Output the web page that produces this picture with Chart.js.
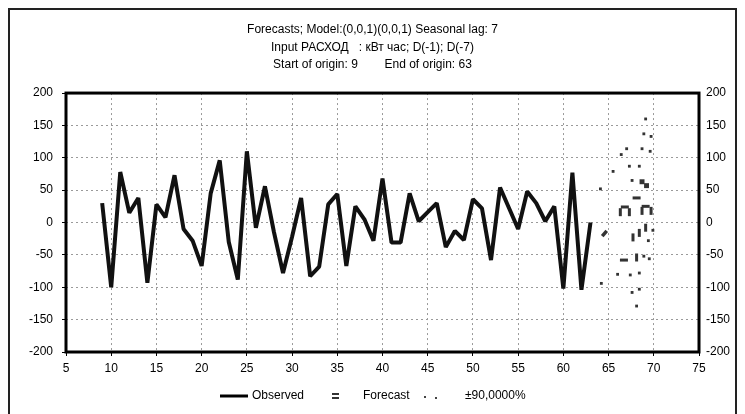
<!DOCTYPE html>
<html>
<head>
<meta charset="utf-8">
<script src="https://cdn.jsdelivr.net/npm/chart.js@4.4.0/dist/chart.umd.min.js"></script>
<style>
  html, body { margin: 0; padding: 0; background: #fff; }
</style>
</head>
<body>
<canvas id="chart" width="745" height="414"></canvas>
<script>
// observed series (origin 9 .. 63)
const obsT = [9, 10, 11, 12, 13, 14, 15, 16, 17, 18, 19, 20, 21, 22, 23, 24, 25, 26, 27, 28,
  29, 30, 31, 32, 33, 34, 35, 36, 37, 38, 39, 40, 41, 42, 43, 44, 45, 46, 47, 48,
  49, 50, 51, 52, 53, 54, 55, 56, 57, 58, 59, 60, 61, 62, 63];
const obsV = [30, -100, 78, 15, 38, -93, 28, 8, 73, -10, -28, -67, 45, 96, -30, -88, 110, -8, 56, -15,
  -78, -22, 38, -83, -68, 28, 44, -67, 25, 5, -28, 68, -31, -31, 45, 2, 16, 30, -38, -13,
  -27, 36, 22, -58, 54, 22, -10, 48, 30, 2, 25, -102, 77, -104, 0];

// forecast (short stroke right after the end of origin)
const fcT = [64.3, 64.8];
const fcV = [-21, -13];

// forecast marks, horizontal / vertical strokes and blocks
const hDashT = [66.8, 69.1, 68.1, 66.7];
const hDashV = [24, 25, 38, -58];
const vDashT = [66.3, 67.3, 68.7, 69.7, 67.7, 68.4, 69.1, 68.1];
const vDashV = [16, 16, 18, 18, -23, -16, -8, -54];
const blockT = [68.7, 69.2];
const blockV = [63, 57];

// +-90% limits (small dots)
const limT = [64.1, 64.2, 65.5, 66.4, 67.0, 67.3, 67.6, 68.4, 68.7, 69.1, 68.9, 69.7, 69.6,
  69.4, 69.9, 68.9, 69.5, 66.0, 67.4, 68.4, 67.6, 68.4, 68.1];
const limV = [52, -94, 79, 105, 114, 87, 65, 87, 114, 160, 137, 133, 110,
  -28, -12, -52, -56, -80, -81, -78, -108, -103, -129];

const titleLines = [
  'Forecasts; Model:(0,0,1)(0,0,1) Seasonal lag: 7',
  'Input РАСХОД   : кВт час; D(-1); D(-7)',
  'Start of origin: 9        End of origin: 63'
];

const xy = (ts, vs) => ts.map((t, i) => ({x: t, y: vs[i]}));
const FONT = 'Liberation Sans, Arial, sans-serif';
Chart.defaults.font.family = FONT;
Chart.defaults.color = '#000';

// frame round the plot + legend at the bottom
const framePlugin = {
  id: 'frame',
  afterDraw(chart) {
    const {ctx, chartArea: a} = chart;
    ctx.save();
    // outer window frame
    ctx.strokeStyle = '#222';
    ctx.lineWidth = 2;
    ctx.strokeRect(9, 9, 727, 420);
    // plot frame
    ctx.strokeStyle = '#000';
    ctx.lineWidth = 3;
    ctx.strokeRect(a.left, a.top, a.right - a.left, a.bottom - a.top);

    // legend
    const y = 396;
    ctx.font = '12px ' + FONT;
    ctx.fillStyle = '#000';
    ctx.textBaseline = 'middle';
    ctx.lineWidth = 3;
    ctx.beginPath();
    ctx.moveTo(220, y);
    ctx.lineTo(248, y);
    ctx.stroke();
    ctx.fillText('Observed', 252, y);

    ctx.fillStyle = '#333';
    ctx.fillRect(332, y - 3, 7, 2);
    ctx.fillRect(332, y + 1, 7, 2);
    ctx.fillStyle = '#000';
    ctx.fillText('Forecast', 363, y);

    ctx.fillStyle = '#444';
    ctx.fillRect(424, y, 2, 2);
    ctx.fillRect(435, y + 1, 2, 2);
    ctx.fillStyle = '#000';
    ctx.fillText('±90,0000%', 465, y);
    ctx.restore();
  }
};

const grid = {color: '#9a9a9a', tickLength: 4, tickColor: '#000', lineWidth: 1};

new Chart(document.getElementById('chart'), {
  type: 'scatter',
  data: {
    datasets: [
      {
        label: 'Observed',
        data: xy(obsT, obsV),
        showLine: true,
        borderColor: '#111',
        borderWidth: 4,
        borderJoinStyle: 'bevel',
        pointRadius: 0,
        tension: 0
      },
      {
        label: 'Forecast',
        data: xy(fcT, fcV),
        showLine: true,
        borderColor: '#333',
        borderWidth: 3.5,
        pointRadius: 0
      },
      {
        label: 'Forecast h',
        data: xy(hDashT, hDashV),
        pointStyle: 'line',
        pointRadius: 4,
        borderWidth: 3,
        borderColor: '#333'
      },
      {
        label: 'Forecast v',
        data: xy(vDashT, vDashV),
        pointStyle: 'line',
        rotation: 90,
        pointRadius: 4,
        borderWidth: 3,
        borderColor: '#333'
      },
      {
        label: 'Forecast block',
        data: xy(blockT, blockV),
        pointStyle: 'rect',
        pointRadius: 3.5,
        borderWidth: 0,
        backgroundColor: '#333'
      },
      {
        label: '±90,0000%',
        data: xy(limT, limV),
        pointStyle: 'rect',
        pointRadius: 2,
        borderWidth: 0,
        backgroundColor: '#333'
      }
    ]
  },
  options: {
    responsive: false,
    animation: false,
    devicePixelRatio: 1,
    layout: {padding: {top: 0, left: 0, right: 0, bottom: 32}},
    scales: {
      x: {
        type: 'linear',
        min: 5,
        max: 75,
        ticks: {stepSize: 5, font: {size: 12}, padding: 5, maxRotation: 0},
        grid: grid,
        border: {display: false, dash: [2, 3]},
        afterFit: s => { s.height = 30; }
      },
      y: {
        position: 'left',
        min: -200,
        max: 200,
        ticks: {stepSize: 50, font: {size: 12}, padding: 9},
        grid: grid,
        border: {display: false, dash: [2, 3]},
        afterFit: s => { s.width = 66; }
      },
      y2: {
        position: 'right',
        min: -200,
        max: 200,
        ticks: {stepSize: 50, font: {size: 12}, padding: 7},
        grid: {drawOnChartArea: false, drawTicks: false},
        border: {display: false},
        afterFit: s => { s.width = 46; }
      }
    },
    plugins: {
      legend: {display: false},
      tooltip: {enabled: false},
      title: {
        display: true,
        text: titleLines,
        color: '#000',
        font: {size: 12, weight: 'normal', lineHeight: 1.46},
        padding: {top: 21, bottom: 19.5}
      }
    }
  },
  plugins: [framePlugin]
});
</script>
</body>
</html>
